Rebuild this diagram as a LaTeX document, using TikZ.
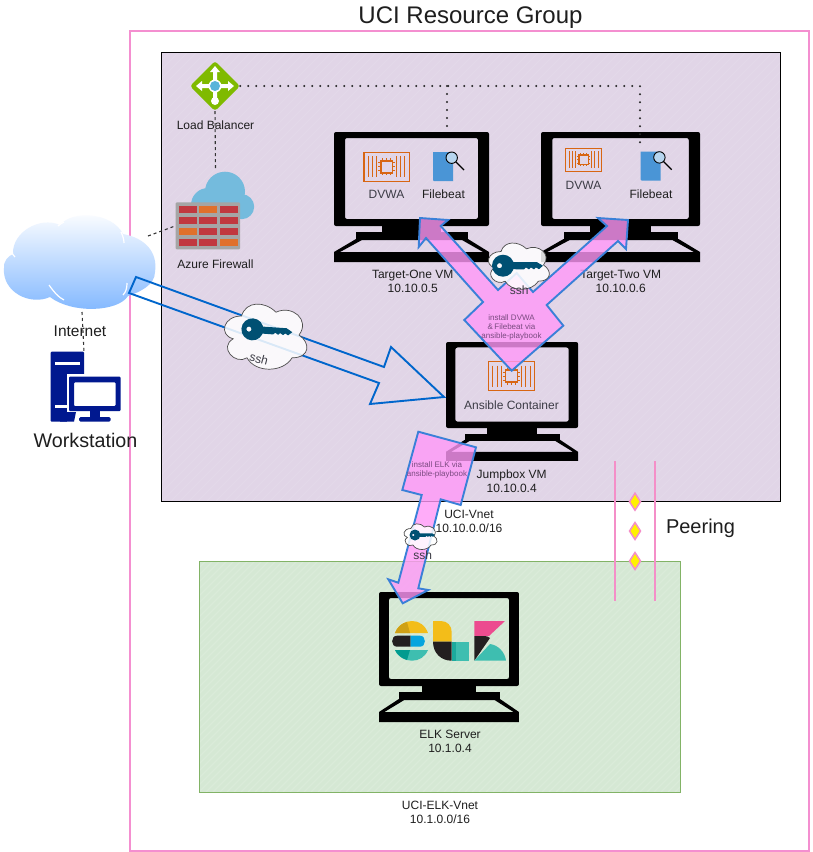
\documentclass[tikz,border=0pt]{standalone}
\usepackage{fontspec}
\setmainfont{Liberation Sans}
\usetikzlibrary{calc}
\definecolor{outerpink}{HTML}{F48FD0}
\definecolor{peerpink}{HTML}{F48FC8}
\definecolor{vnetpurple}{HTML}{E1D5E7}
\definecolor{vnetgreen}{HTML}{D5E8D4}
\definecolor{greenedge}{HTML}{82B366}
\definecolor{hatchpurple}{HTML}{E3D8E9}
\definecolor{hatchgreen}{HTML}{DAEBD9}
\definecolor{arrowblue}{HTML}{0066CC}
\definecolor{pinkfill}{HTML}{FF98F8}
\definecolor{pinkedge}{HTML}{3A80D8}
\definecolor{chiporange}{HTML}{D86613}
\definecolor{docblue}{HTML}{4A95D6}
\definecolor{keyblue}{HTML}{005073}
\definecolor{wsnavy}{HTML}{00188F}
\definecolor{lbgreen}{HTML}{7FBA00}
\definecolor{lbblue}{HTML}{59B4D9}
\definecolor{fwcloud}{HTML}{74BBDD}
\definecolor{brickgrey}{HTML}{A5A5A5}
\definecolor{brickred}{HTML}{C1383F}
\definecolor{brickorange}{HTML}{E0702C}
\definecolor{inettop}{HTML}{FFFFFF}
\definecolor{inetbot}{HTML}{7FB6FF}
\definecolor{labeltext}{HTML}{1E1E1E}
\definecolor{softtext}{HTML}{3C3C46}
\definecolor{arrowtext}{HTML}{7A4A80}
\definecolor{elkyellow}{HTML}{F3BD19}
\definecolor{elkdark}{HTML}{231F20}
\definecolor{elkteal}{HTML}{3EBEB0}
\definecolor{elkdteal}{HTML}{019B8F}
\definecolor{elkblue}{HTML}{07A5DE}
\definecolor{elkpink}{HTML}{EC4C8F}
\tikzset{
  x=1pt,y=-1pt,
  lab/.style={font=\fontsize{12}{14}\selectfont,text=labeltext,align=center,inner sep=0pt},
  softlab/.style={font=\fontsize{12}{14}\selectfont,text=softtext,align=center,inner sep=0pt},
  tinylab/.style={font=\fontsize{8}{9}\selectfont,text=arrowtext,align=center,inner sep=0pt},
  dotline/.style={line width=2.3pt,line cap=round,dash pattern=on 0pt off 8pt,draw=black!85},
  dashline/.style={line width=1.1pt,dash pattern=on 3pt off 3pt,draw=black!80},
  bigarrow/.style={draw=pinkedge,line width=1.9pt,fill=pinkfill,fill opacity=.8,line join=miter},
  cloudshape/.style={draw=black!70,line width=.7pt,fill=white,fill opacity=.85},
  monitor/.pic={
    \fill[black,even odd rule,rounded corners=2pt] (0,0) rectangle (155,94) (11,6) rectangle (144,87);
    \fill[black] (48,94) rectangle (107,100);
    \fill[black] (22,100) rectangle (134,108);
    \fill[black,even odd rule] (22,107) -- (0,120) -- (0,130) -- (155,130) -- (155,120) -- (134,107) -- cycle
      (28,108) -- (6,120) -- (149,120) -- (128,108) -- cycle;
  },
  chip/.pic={
    \draw[chiporange,line width=1.1pt] (0,0) rectangle (46,29);
    \foreach \sx in {4.5,9,13,33,37,41.5}{\draw[chiporange,line width=1pt] (\sx,4) -- (\sx,25);}
    \draw[chiporange,line width=1.6pt] (17,8.5) rectangle (29,20.5);
    \foreach \sx in {19,23,27}{
      \draw[chiporange,line width=.8pt] (\sx,6) -- (\sx,8) (\sx,21) -- (\sx,23);}
    \foreach \sy in {10.5,14.5,18.5}{
      \draw[chiporange,line width=.8pt] (14.5,\sy) -- (16.5,\sy) (29.5,\sy) -- (31.5,\sy);}
  },
  filedoc/.pic={
    \fill[docblue] (0,0) -- (20,0) -- (20,29) -- (1,29) -- (0,28) -- cycle;
    \draw[black,line width=.9pt,fill=white!60!docblue] (18.7,5.7) circle (5.7);
    \draw[black,line width=1.4pt] (22.8,9.8) -- (31,18);
  },
  cloudpic/.pic={
    \path[cloudshape] (-.25,-.25) .. controls (-.45,-.25) and (-.5,0) .. (-.34,.05)
      .. controls (-.5,.16) and (-.32,.4) .. (-.19,.3)
      .. controls (-.1,.5) and (.2,.5) .. (.3,.3)
      .. controls (.5,.3) and (.5,.1) .. (.375,0)
      .. controls (.5,-.2) and (.3,-.4) .. (.125,-.3)
      .. controls (0,-.45) and (-.2,-.45) .. (-.25,-.25) -- cycle;
  },
  keypic/.pic={
    \fill[keyblue,even odd rule] (0,0) circle (11) (-3.5,0) circle (2.6);
    \fill[keyblue] (6,-3.5) -- (34,-3.5) -- (40,0) -- (36,3.5) -- (33,1.8) -- (31,3.6) -- (28,1.8) -- (26,3.6) -- (23,1.8) -- (21,3.6) -- (6,3.5) -- cycle;
  }
}
\begin{document}
\begin{tikzpicture}
\useasboundingbox (0,0) rectangle (812,852);
\fill[white] (0,0) rectangle (812,852);

% outer group
\draw[outerpink,line width=1.4pt] (130,31) rectangle (809,851);
\node[font=\fontsize{24}{28}\selectfont,text=labeltext,inner sep=0pt] (title) at (470.5,18) {UCI Resource Group};

% vnets
\fill[vnetpurple] (161,52) rectangle (780,501);
\begin{scope}
  \clip (161,52) rectangle (780,501);
  \foreach \i in {0,9,...,1080}{\draw[hatchpurple,line width=1.2pt] (161-449+\i,501) -- (161+\i,52);}
\end{scope}
\draw[black,line width=1pt] (161,52) rectangle (780,501);
\fill[vnetgreen] (199,561) rectangle (680,792);
\begin{scope}
  \clip (199,561) rectangle (680,792);
  \foreach \i in {0,7,...,720}{\draw[hatchgreen,line width=1.2pt] (199-231+\i,792) -- (199+\i,561);}
\end{scope}
\draw[greenedge,line width=.8pt] (199,561) rectangle (680,792);

% invisible anchors for icons
\node[inner sep=0pt,minimum width=50pt,minimum height=50pt] (lb) at (215,86) {};
\node[inner sep=0pt,minimum width=79pt,minimum height=79pt] (fw) at (215.5,209.5) {};
\coordinate (fwwest) at (175,226);
\coordinate (inetne) at (148,236);
\coordinate (inetbottom) at (82,312);
\coordinate (wstop) at (84,352);
\coordinate (t1port) at (447,131);
\coordinate (t2port) at (640,150);

% monitors
\pic[xscale=1,yscale=1] at (334,132) {monitor};
\pic[xscale=1.026,yscale=1] at (541,132) {monitor};
\pic[xscale=.852,yscale=.915] at (446,342) {monitor};
\pic[xscale=.903,yscale=1] at (379,592) {monitor};

% connectors
\draw[dotline] (lb.east) -- (t2port |- lb.east) -- (t2port);
\draw[dotline] (t1port |- lb.east) -- (t1port);

% load balancer
\fill[lbgreen,rounded corners=3pt] (215,61) -- (240,86) -- (215,111) -- (190,86) -- cycle;
\fill[white] (215,66) -- (220,72) -- (217,72) -- (217,98) -- (213,98) -- (213,72) -- (210,72) -- cycle;
\fill[white] (196,86) -- (202,81) -- (202,84) -- (228,84) -- (228,81) -- (234,86) -- (228,91) -- (228,88) -- (202,88) -- (202,91) -- cycle;
\fill[white] (215,101) circle (4);
\fill[white] (215,86) circle (6.5);
\fill[lbblue] (215,86) circle (5);
\node[lab] (lblabel) at (215.5,125) {Load Balancer};
\draw[dashline] (lb.south) -- (fw.north);

% firewall
\fill[fwcloud] (225,191.7) circle (20) (208,205) circle (17) (241.7,206.7) circle (12.5);
\fill[fwcloud] (208,205) rectangle (241.7,219);
\fill[fwcloud] (195,210) rectangle (210,219);
\fill[brickgrey,rounded corners=1pt] (175.7,202.3) rectangle (240,249.3);
\foreach \bx/\by/\bc in {179/205.7/brickred,199.3/205.7/brickorange,220/205.7/brickred,
  179/216.7/brickred,199.3/216.7/brickred,220/216.7/brickred,
  179/227.7/brickorange,199.3/227.7/brickred,220/227.7/brickred,
  179/238.7/brickred,199.3/238.7/brickred,220/238.7/brickorange}{
  \fill[\bc] (\bx,\by) rectangle ++(17.5,7.6);
}
\node[lab] (fwlabel) at (215.5,264) {Azure Firewall};

% internet cloud
\shade[top color=inettop,bottom color=inetbot,shading angle=0]
  (13,254) .. controls (12,232) and (40,216) .. (60,225)
  .. controls (72,210) and (112,212) .. (123,234)
  .. controls (145,238) and (158,252) .. (155,272)
  .. controls (155,285) and (140,292) .. (128,296)
  .. controls (118,312) and (72,314) .. (50,297)
  .. controls (30,306) and (2,292) .. (4,268)
  .. controls (3,262) and (8,256) .. (13,254) -- cycle;
\draw[white,line width=1.2pt] (49,285) .. controls (54,292) and (58,297) .. (64,300);
\draw[white,line width=1.2pt] (127,283) .. controls (127,288) and (126,292) .. (123,295);
\draw[white,line width=1.2pt] (121,232) .. controls (123,236) and (124,240) .. (124,243);
\draw[white,line width=1.2pt] (12,250) .. controls (12,253) and (13,256) .. (15,257);
\draw[white,line width=1.2pt] (58,226) .. controls (60,224) and (62,223) .. (64,222);
\node[font=\fontsize{15.5}{18}\selectfont,text=labeltext,inner sep=0pt] (inetlabel) at (80,331) {Internet};
\draw[dashline] (inetne) -- (fwwest);

% workstation
\fill[wsnavy,rounded corners=1pt] (50.7,351.7) rectangle (84,421.7);
\fill[white] (55,361.7) rectangle (80,365);
\fill[white] (66.5,373.5) rectangle (125,426);
\fill[white] (55,405) rectangle (66.5,408);
\fill[wsnavy] (60,412) -- (76,412) -- (74,421.7) -- (60,421.7) -- cycle;
\fill[wsnavy,even odd rule,rounded corners=1pt] (69,376.7) rectangle (120.7,411) (74,382.3) rectangle (115.7,406);
\fill[wsnavy] (90,411) rectangle (100,417);
\fill[wsnavy,rounded corners=1.5pt] (79,417) rectangle (110.7,421.7);
\node[font=\fontsize{19.7}{22}\selectfont,text=labeltext,inner sep=0pt] (wslabel) at (85.5,440) {Workstation};
\draw[dashline] (inetbottom) -- (wstop);

% screen icons
\pic[xscale=.985,yscale=1] at (364,152.3) {chip};
\pic[xscale=.78,yscale=.79] at (565.7,148.3) {chip};
\pic[xscale=1.01,yscale=1] at (488.3,361.7) {chip};
\pic at (433,152) {filedoc};
\pic at (640.7,151.7) {filedoc};
\node[softlab] (dvwa1) at (386.5,194.5) {DVWA};
\node[lab] (fb1) at (443.5,194.5) {Filebeat};
\node[softlab] (dvwa2) at (583.5,185) {DVWA};
\node[lab] (fb2) at (651,194) {Filebeat};
\node[softlab] (ansible) at (511.5,405) {Ansible Container};

% blue double arrow
\draw[arrowblue,line width=1.9pt,line join=miter]
  (136,277) -- (384,367) -- (391,347) -- (444,397) -- (370,404) -- (379,383) -- (129,293) -- cycle;

% vm labels
\node[lab] (t1label) at (412.7,281) {Target-One VM\\10.10.0.5};
\node[lab] (t2label) at (620.7,281) {Target-Two VM\\10.10.0.6};
\node[lab] (jblabel) at (511.7,481) {Jumpbox VM\\10.10.0.4};
\node[lab] (vnet1) at (469,521.5) {UCI-Vnet\\10.10.0.0/16};
\node[lab] (elklabel) at (450,741) {ELK Server\\10.1.0.4};
\node[lab] (vnet2) at (440,812) {UCI-ELK-Vnet\\10.1.0.0/16};

% peering
\draw[peerpink,line width=1.6pt] (615,461) -- (615,601);
\draw[peerpink,line width=1.6pt] (655,461) -- (655,601);
\foreach \py in {501.7,531,561}{
  \draw[peerpink,line width=1.5pt,fill=yellow] (635,\py-8.5) -- (640.5,\py) -- (635,\py+8.5) -- (629.5,\py) -- cycle;
}
\node[font=\fontsize{20}{24}\selectfont,text=labeltext,inner sep=0pt] (peerlabel) at (700.5,528.5) {Peering};

% ELK logo
\begin{scope}
  % E
  \fill[elkyellow] (395,633) .. controls (398,625) and (405,621) .. (412,621) .. controls (419,621) and (425,625) .. (428,633) -- cycle;
  \fill[black!15!elkyellow] (395,633) .. controls (397,627) and (402,623) .. (407,622) -- (410,633) -- cycle;
  \fill[elkdark] (397,635.7) -- (410.7,635.7) -- (410.7,646.7) -- (397,646.7) .. controls (390.5,646.7) and (390.5,635.7) .. (397,635.7) -- cycle;
  \fill[elkblue] (410.7,635.7) -- (420,635.7) .. controls (426.5,635.7) and (426.5,646.7) .. (420,646.7) -- (410.7,646.7) -- cycle;
  \fill[elkteal] (395,650) -- (428,650) .. controls (425,657) and (419,660.7) .. (412,660.7) .. controls (405,660.7) and (398,657) .. (395,650) -- cycle;
  \fill[elkdteal] (395,650) -- (410,650) -- (407,660) .. controls (402,658.5) and (397,655) .. (395,650) -- cycle;
  % L
  \fill[elkyellow] (433,621) -- (441,621) .. controls (447.5,621) and (451.7,626) .. (451.7,632) -- (451.7,641.7) -- (433,641.7) -- cycle;
  \fill[elkdark] (433,641.7) -- (451.7,641.7) -- (451.7,660.7) .. controls (441,660.7) and (433,653) .. (433,641.7) -- cycle;
  \fill[elkteal] (451.7,642.3) rectangle (469,660.7);
  \fill[elkdteal,opacity=.55] (451.7,642.3) rectangle (456,660.7);
  % K
  \fill[elkpink] (474.3,621) -- (505,621) -- (489,636) -- (474.3,636) -- cycle;
  \fill[elkdark] (474.3,636) -- (483,636) .. controls (487,636) and (489,637) .. (490,638) -- (474.3,660.7) -- cycle;
  \fill[elkteal] (474.3,660.7) -- (490,644) .. controls (498,645) and (505,652) .. (506,660.7) -- cycle;
\end{scope}

% pink arrows
\path[bigarrow]
  (511.7,370.7) -- (464.3,320) -- (483,302) -- (426,238) -- (418.7,247) -- (420,218) -- (448,220) -- (440.7,226)
  -- (498,290) -- (516.7,273) -- (533,292) -- (607,226) -- (598,218) -- (628,220) -- (626,249) -- (618,241)
  -- (546.7,305) -- (563.3,325.7) -- cycle;
\node[tinylab] (installdvwa) at (511.5,327) {install DVWA\\\&\,Filebeat via\\ansible-playbook};
\path[bigarrow]
  (418.3,431.7) -- (476,447.3) -- (460.7,505) -- (440.7,499.3) -- (418.3,588.3) -- (428.3,590) -- (402.7,603.3)
  -- (388.3,579.3) -- (398.3,582.7) -- (421.7,495) -- (402.3,490) -- cycle;
\node[tinylab] (installelk) at (437,470) {install ELK via\\ansible-playbook};

% ssh clouds
\begin{scope}[shift={(264.5,335)},rotate=-12]
  \pic[xscale=92,yscale=76] at (0,0) {cloudpic};
  \pic[rotate=-4] at (-13,-3) {keypic};
\end{scope}
\node[font=\fontsize{12}{14}\selectfont,text=softtext,inner sep=0pt,rotate=-15] (ssh1) at (259,359) {ssh};
\begin{scope}[shift={(518,265)}]
  \pic[xscale=68,yscale=54] at (0,0) {cloudpic};
  \pic at (-15,0.7) {keypic};
\end{scope}
\node[softlab] (ssh2) at (519.3,290.7) {ssh};
\begin{scope}[shift={(420,536)}]
  \pic[xscale=37,yscale=30] at (0,0) {cloudpic};
  \pic[scale=.5] at (-5,-1) {keypic};
\end{scope}
\node[softlab] (ssh3) at (422.7,555) {ssh};
\end{tikzpicture}
\end{document}
